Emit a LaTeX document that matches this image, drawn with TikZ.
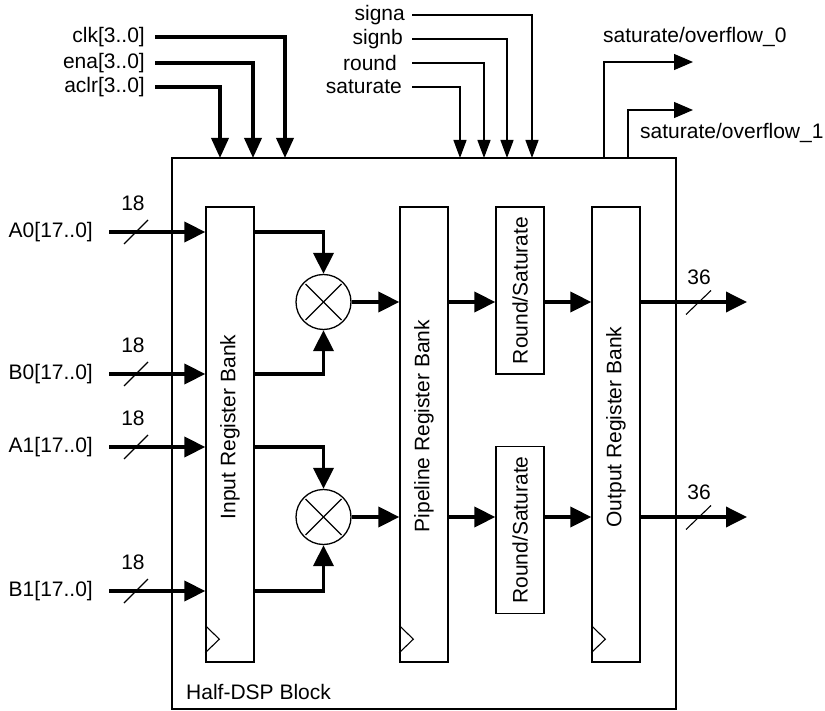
\documentclass[tikz,border=0pt]{standalone}
\usepackage{fontspec}
\setmainfont{Liberation Sans}
\usetikzlibrary{arrows.meta,calc}
\begin{document}
\begin{tikzpicture}[x=1pt,y=-1pt,
  every node/.style={font=\fontsize{21}{25}\selectfont, inner sep=0pt},
  frame/.style={draw, line width=1.3pt, inner sep=0pt},
  bank/.style={frame, minimum width=48pt, minimum height=455pt},
  rsbox/.style={frame, minimum width=48pt, minimum height=167pt},
  mult/.style={draw, circle, line width=1.3pt, minimum size=55pt, inner sep=0pt},
  bus/.style={line width=3.6pt, -{Triangle[length=21pt,width=20pt]}},
  ctl/.style={line width=3.6pt, -{Triangle[length=20pt,width=17pt]}},
  sig/.style={line width=1.3pt, -{Triangle[length=18pt,width=13pt]}},
  flag/.style={line width=1.3pt, -{Triangle[length=19pt,width=16pt]}},
  slash/.style={line width=1.1pt},
  clkmark/.style={line width=1.1pt}
]
\useasboundingbox (0,0) rectangle (825,711);

% outer block
\node[frame, minimum width=504pt, minimum height=551pt] (dsp) at (424,433.5) {};
\node[anchor=west] (dsplbl) at (186,692) {Half-DSP Block};

% banks
\node[bank] (inreg) at (230,434.5) {};
\node[bank] (pipereg) at (424,434.5) {};
\node[bank] (outreg) at (616,434.5) {};
\node[rotate=90] (inlbl) at (230,427) {Input Register Bank};
\node[rotate=90] (pipelbl) at (424,426) {Pipeline Register Bank};
\node[rotate=90] (outlbl) at (616,427) {Output Register Bank};

\node[rsbox] (rs1) at (520,290.5) {};
\node[rsbox] (rs2) at (520,530) {};
\node[rotate=90] (rs1lbl) at (520,290.5) {Round/Saturate};
\node[rotate=90] (rs2lbl) at (520,530) {Round/Saturate};

% clock marks
\foreach \b in {inreg,pipereg,outreg}{
  \draw[clkmark] ($(\b.south west)+(0,-10)$) -- ++(14,-13.5) -- ++(-14,-13.5);
}

% multipliers
\node[mult] (m1) at (323.5,302) {};
\node[mult] (m2) at (323.5,517) {};
\foreach \m in {m1,m2}{
  \draw[line width=1.1pt] ($(\m)+(-18,-18)$) -- ($(\m)+(18,18)$);
  \draw[line width=1.1pt] ($(\m)+(-18,18)$) -- ($(\m)+(18,-18)$);
}

% inputs
\foreach \n/\t/\y in {a0/A0[17..0]/232, b0/B0[17..0]/374, a1/A1[17..0]/447, b1/B1[17..0]/591}{
  \node[anchor=east] (\n lbl) at (93,\y) {\t};
  \coordinate (\n s) at (109,\y);
  \draw[bus] (\n s) -- (\n s -| inreg.west);
  \draw[slash] ($(\n s)+(15,12)$) -- ($(\n s)+(39,-12)$);
  \node (\n w) at (133,\y-29) {18};
}

% input bank to multipliers
\draw[bus] (inreg.east |- a0s) -| (m1);
\draw[bus] (inreg.east |- b0s) -| (m1);
\draw[bus] (inreg.east |- a1s) -| (m2);
\draw[bus] (inreg.east |- b1s) -| (m2);

% multipliers to pipeline
\draw[bus] (m1) -- (m1 -| pipereg.west);
\draw[bus] (m2) -- (m2 -| pipereg.west);

% pipeline to round/saturate to output
\draw[bus] (pipereg.east |- m1) -- (rs1.west |- m1);
\draw[bus] (pipereg.east |- m2) -- (rs2.west |- m2);
\draw[bus] (rs1.east |- m1) -- (outreg.west |- m1);
\draw[bus] (rs2.east |- m2) -- (outreg.west |- m2);

% outputs
\coordinate (o0) at (747,302);
\coordinate (o1) at (747,517);
\draw[bus] (outreg.east |- o0) -- (o0);
\draw[bus] (outreg.east |- o1) -- (o1);
\draw[slash] (686,314.5) -- (711,290.5);
\draw[slash] (686,529.5) -- (711,505.5);
\node (o0w) at (699,277) {36};
\node (o1w) at (699,492) {36};

% clock / enable / clear
\foreach \n/\t/\y/\x in {clk/clk[3..0]/37/285, ena/ena[3..0]/63/253, aclr/aclr[3..0]/87/220}{
  \node[anchor=east] (\n lbl) at (145,\y) {\t};
  \coordinate (\n s) at (155,\y);
  \coordinate (\n t) at (\x,158);
  \draw[ctl] (\n s) -| (\n t);
}

% sign / round / saturate controls
\foreach \n/\t/\y/\x/\e in {signa/signa/15/532/405, signb/signb/39/507/403, rnd/round/63/484/397, sat/saturate/87/460/402}{
  \node[anchor=east] (\n lbl) at (\e,\y) {\t};
  \coordinate (\n s) at (412,\y);
  \coordinate (\n t) at (\x,158);
  \draw[sig] (\n s) -| (\n t);
}

% overflow flags
\coordinate (f0s) at (604,158);
\coordinate (f0t) at (693,62);
\coordinate (f1s) at (628,158);
\coordinate (f1t) at (693,110);
\draw[flag] (f0s) |- (f0t);
\draw[flag] (f1s) |- (f1t);
\node[anchor=west] (f0lbl) at (603,37) {saturate/overflow\_0};
\node[anchor=west] (f1lbl) at (640,133) {saturate/overflow\_1};
\end{tikzpicture}
\end{document}
